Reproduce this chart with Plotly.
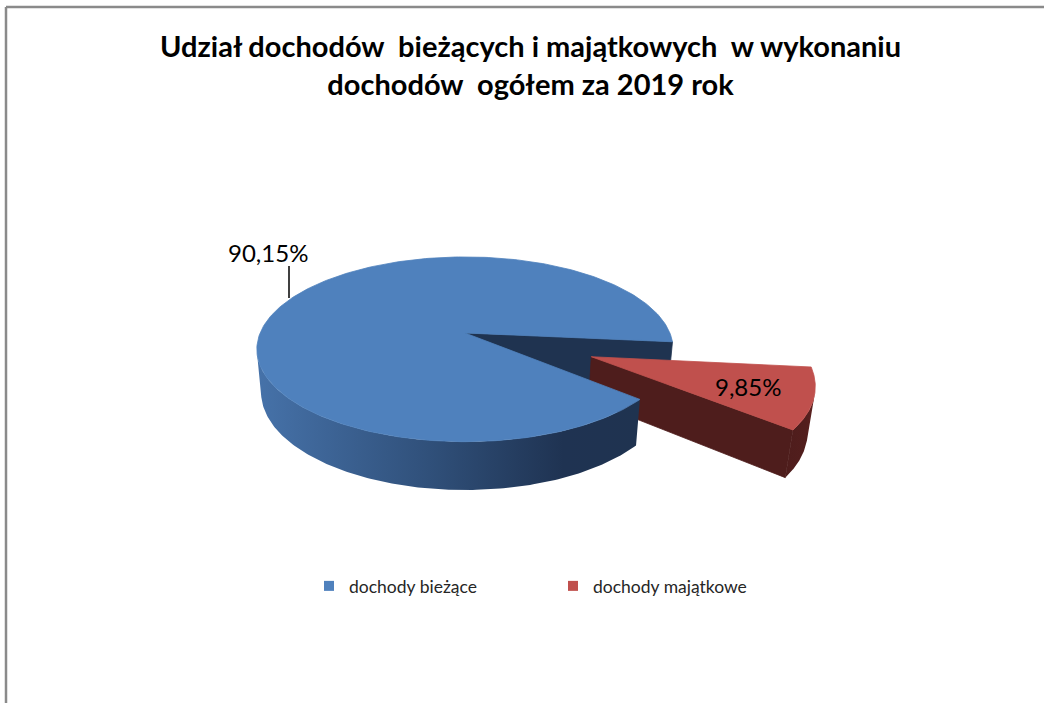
import numpy as np
import plotly.graph_objects as go

# ---------------- data ----------------
labels = ["dochody bieżące", "dochody majątkowe"]
values = [90.15, 9.85]
label_texts = ["90,15%", "9,85%"]
title_lines = ["Udział dochodów\u00a0 bieżących i majątkowych\u00a0 w wykonaniu",
               "dochodów\u00a0 ogółem za 2019 rok"]

# ---------------- style ----------------
top_colors = ["#4F81BD", "#C0504D"]
face_colors = ["#1F3350", "#4E1D1C"]
side_scales = [
    [[0, "#4672A9"], [0.45, "#30507A"], [0.8, "#1F3352"], [1, "#1F3350"]],
    [[0, "#4E1D1C"], [0.7, "#521E1D"], [1, "#5E2220"]],
]
FONT = "Lato"
W, H = 1044, 703

# perspective 3D pie geometry
X0, Y0 = 465, 333        # projected pie centre (pixels)
K = 1045                 # focal scale
DIST = 5.1               # camera distance (in pie radii)
ELEV = np.radians(25.9)  # camera elevation
THICK = 0.233            # pie thickness (in radii)
ROT = 41.0               # start angle of first slice (deg)
PULL = [0.0, 0.641]

cE, sE = np.cos(ELEV), np.sin(ELEV)


def proj(X, Y, Z):
    X, Y, Z = np.asarray(X, float), np.asarray(Y, float), np.asarray(Z, float)
    qx, qy, qz = X, Y - DIST * cE, Z - DIST * sE
    xc = qx
    yc = -qy * sE + qz * cE
    zc = -qy * cE - qz * sE
    return X0 + K * xc / zc, Y0 - K * yc / zc


total = sum(values)
fig = go.Figure()

slices = []
acc = ROT
for i, v in enumerate(values):
    a0 = acc
    a1 = acc + 360 * v / total
    acc = a1
    mid = np.radians((a0 + a1) / 2)
    slices.append(dict(a0=np.radians(a0), a1=np.radians(a1), mid=mid,
                       ox=PULL[i] * np.cos(mid), oy=PULL[i] * np.sin(mid)))

cam = np.array([0.0, DIST * cE, DIST * sE])


def add_poly(xs, ys, color=None, grad=None):
    xs, ys = list(xs), list(ys)
    kw = dict(x=xs + [xs[0]], y=ys + [ys[0]], mode="lines",
              fill="toself", hoverinfo="skip", showlegend=False)
    if grad is not None:
        kw["fillgradient"] = dict(type="horizontal", colorscale=grad)
        kw["line"] = dict(width=0)
    else:
        kw["fillcolor"] = color
        kw["line"] = dict(width=0.8, color=color)
    fig.add_trace(go.Scatter(**kw))


def radial_faces(i):
    sl = slices[i]
    for ang, sign in ((sl["a0"], -1), (sl["a1"], 1)):
        n = sign * np.array([-np.sin(ang), np.cos(ang), 0.0])
        if n @ (cam - np.array([sl["ox"], sl["oy"], 0.0])) > 0:
            rx, ry = sl["ox"] + np.cos(ang), sl["oy"] + np.sin(ang)
            X = [sl["ox"], rx, rx, sl["ox"]]
            Y = [sl["oy"], ry, ry, sl["oy"]]
            Z = [0, 0, -THICK, -THICK]
            add_poly(*proj(X, Y, Z), color=face_colors[i])


def side(i):
    sl = slices[i]
    t = np.linspace(sl["a0"], sl["a1"], 400)
    nx, ny = np.cos(t), np.sin(t)
    px, py = sl["ox"] + nx, sl["oy"] + ny
    vis = nx * (cam[0] - px) + ny * (cam[1] - py) > 0
    idx = np.flatnonzero(vis)
    if idx.size == 0:
        return
    runs = np.split(idx, np.flatnonzero(np.diff(idx) > 1) + 1)
    for r in runs:
        xt, yt = proj(px[r], py[r], np.zeros(r.size))
        xb, yb = proj(px[r], py[r], np.full(r.size, -THICK))
        add_poly(np.concatenate([xt, xb[::-1]]), np.concatenate([yt, yb[::-1]]),
                 grad=side_scales[i])


def top(i):
    sl = slices[i]
    t = np.linspace(sl["a0"], sl["a1"], 300)
    X = np.concatenate([[sl["ox"]], sl["ox"] + np.cos(t)])
    Y = np.concatenate([[sl["oy"]], sl["oy"] + np.sin(t)])
    add_poly(*proj(X, Y, np.zeros(X.size)), color=top_colors[i])


unpulled = [i for i in range(len(values)) if PULL[i] == 0]
pulled = [i for i in range(len(values)) if PULL[i] != 0]
for i in unpulled:
    radial_faces(i)
for i in pulled:
    radial_faces(i)
    side(i)
    top(i)
for i in unpulled:
    side(i)
    top(i)

# legend entries
for i, lab in enumerate(labels):
    fig.add_trace(go.Scatter(x=[None], y=[None], mode="markers", name=lab,
                             marker=dict(symbol="square", size=10,
                                         color=top_colors[i])))

annotations = []
# inside label for pulled slice
sl = slices[1]
lx, ly = proj(sl["ox"] + 0.72 * np.cos(sl["mid"]),
              sl["oy"] + 0.72 * np.sin(sl["mid"]), 0.0)
annotations.append(dict(x=float(lx), y=float(ly), text=label_texts[1],
                        showarrow=False,
                        font=dict(family=FONT, size=24, color="#000000")))
# outside label with leader
annotations.append(dict(x=268, y=252, text=label_texts[0], showarrow=False,
                        font=dict(family=FONT, size=24, color="#000000")))
# title
annotations.append(dict(x=530 / W, y=1 - 26 / H, xref="paper", yref="paper",
                        xanchor="center", yanchor="top", showarrow=False,
                        text="<br>".join(title_lines),
                        font=dict(family=FONT, size=29, color="#000000",
                                  weight="bold")))

shapes = [
    dict(type="line", x0=289, x1=289, y0=266, y1=298, xref="x", yref="y",
         line=dict(color="#000000", width=1.5)),
    dict(type="line", x0=6, x1=W, y0=7, y1=7, xref="x", yref="y",
         line=dict(color="#8A8A8A", width=2.5)),
    dict(type="line", x0=6, x1=6, y0=7, y1=H, xref="x", yref="y",
         line=dict(color="#8A8A8A", width=2.5)),
]

fig.update_layout(
    width=W, height=H,
    margin=dict(l=0, r=0, t=0, b=0),
    paper_bgcolor="white", plot_bgcolor="white",
    xaxis=dict(range=[0, W], visible=False, fixedrange=True),
    yaxis=dict(range=[H, 0], visible=False, fixedrange=True),
    annotations=annotations, shapes=shapes,
    showlegend=True,
    legend=dict(orientation="h", x=309 / W, xanchor="left",
                y=1 - 586 / H, yanchor="middle", entrywidth=199,
                entrywidthmode="pixels",
                font=dict(family=FONT, size=17.5, color="#262626"),
                bgcolor="rgba(0,0,0,0)"),
)

fig.write_html("out.html",
               config={"displayModeBar": False},
               post_script="document.body.style.margin='0px';"
                           "document.body.style.overflow='hidden';")
